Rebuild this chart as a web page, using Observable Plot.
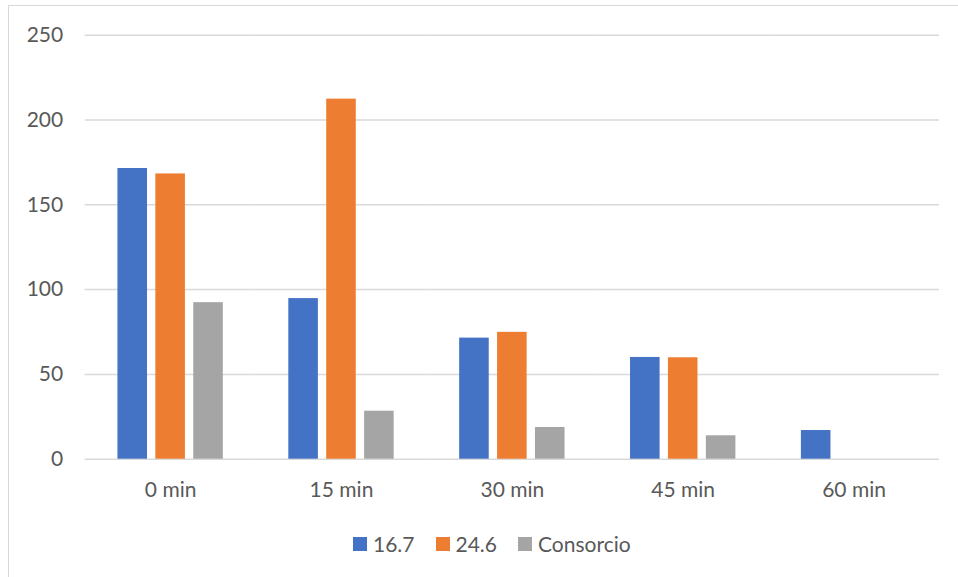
<!DOCTYPE html>
<html>
<head>
<meta charset="utf-8">
<script src="https://cdn.jsdelivr.net/npm/d3@7"></script>
<script src="https://cdn.jsdelivr.net/npm/@observablehq/plot@0.6"></script>
<style>
  html, body { margin: 0; padding: 0; background: #fff; overflow: hidden; width: 958px; height: 577px; }
  #frame { position: absolute; left: 8px; top: 5px; width: 1000px; height: 700px; border: 1.5px solid #d9d9d9; box-sizing: border-box; }
  #chart { position: absolute; left: 0; top: 0; }
  #legend { position: absolute; left: 353px; top: 527px; }
  .lg-swatch { margin-right: 21px !important; }
  .lg-swatch > svg { margin-right: 6px !important; }
</style>
</head>
<body>
<div id="frame"></div>
<div id="chart"></div>
<div id="legend"></div>
<script>
const times = ["0 min", "15 min", "30 min", "45 min", "60 min"];
const series = ["16.7", "24.6", "Consorcio"];
const v167 = [171.4, 94.7, 71.4, 60.0, 16.9];
const v246 = [168.2, 212.3, 74.8, 59.8, 0];
const vCons = [92.3, 28.3, 18.7, 13.8, 0];
const colors = ["#4472C4", "#ED7D31", "#A5A5A5"];
const yTicks = [0, 50, 100, 150, 200, 250];

const valuesBySeries = [v167, v246, vCons];
const rows = [];
times.forEach((t, i) => {
  series.forEach((s, j) => {
    rows.push({time: t, series: s, value: valuesBySeries[j][i]});
  });
});

const font = {fontFamily: "Lato, 'Open Sans', sans-serif", fontSize: "21px", color: "#595959", background: "transparent", overflow: "visible"};

const chart = Plot.plot({
  width: 958,
  height: 510,
  marginTop: 34.7,
  marginBottom: 51.3,
  marginLeft: 84.7,
  marginRight: 19,
  style: font,
  fx: {domain: times, padding: 0, round: false, axis: "bottom", tickSize: 0, tickPadding: 23, label: null},
  x: {domain: series, paddingInner: 0.22, paddingOuter: 0.864, round: false, axis: null},
  y: {domain: [0, 250], ticks: yTicks, tickSize: 0, tickPadding: 22, label: null, grid: false},
  color: {domain: series, range: colors},
  marks: [
    Plot.ruleY(yTicks, {stroke: "#d9d9d9", strokeWidth: 1.5}),
    Plot.barY(rows, {fx: "time", x: "series", y: "value", fill: "series", inset: 0}),
  ]
});
document.getElementById("chart").appendChild(chart);

const legend = Plot.legend({
  color: {domain: series, range: colors},
  swatchSize: 14,
  className: "lg",
  style: {fontFamily: "Lato, 'Open Sans', sans-serif", fontSize: "21px", color: "#595959"}
});
document.getElementById("legend").appendChild(legend);
</script>
</body>
</html>
